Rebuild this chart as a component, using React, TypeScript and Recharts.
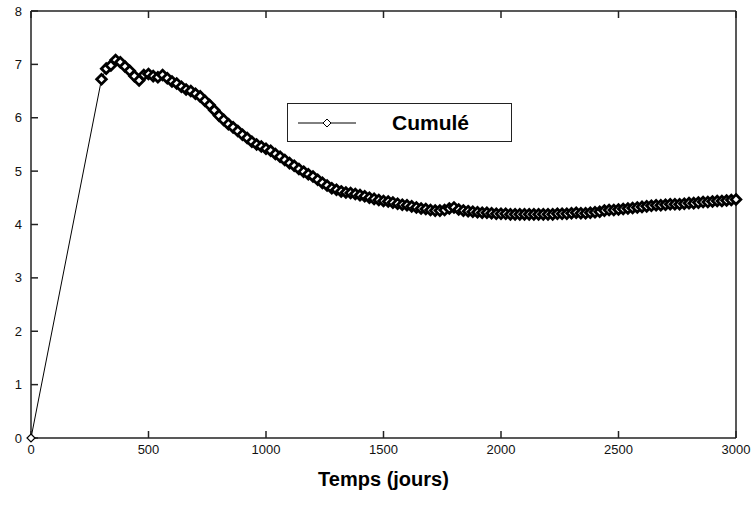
import React from "react";
import { Legend, Line, LineChart, XAxis, YAxis } from "recharts";

const days = [
  0, 300, 320, 340, 360, 380, 400, 420, 440, 460, 480, 500, 520, 540, 560, 580, 600, 620, 640, 660, 680, 700,
  720, 740, 760, 780, 800, 820, 840, 860, 880, 900, 920, 940, 960, 980, 1000, 1020, 1040, 1060, 1080, 1100,
  1120, 1140, 1160, 1180, 1200, 1220, 1240, 1260, 1280, 1300, 1320, 1340, 1360, 1380, 1400, 1420, 1440, 1460,
  1480, 1500, 1520, 1540, 1560, 1580, 1600, 1620, 1640, 1660, 1680, 1700, 1720, 1740, 1760, 1780, 1800, 1820,
  1840, 1860, 1880, 1900, 1920, 1940, 1960, 1980, 2000, 2020, 2040, 2060, 2080, 2100, 2120, 2140, 2160, 2180,
  2200, 2220, 2240, 2260, 2280, 2300, 2320, 2340, 2360, 2380, 2400, 2420, 2440, 2460, 2480, 2500, 2520, 2540,
  2560, 2580, 2600, 2620, 2640, 2660, 2680, 2700, 2720, 2740, 2760, 2780, 2800, 2820, 2840, 2860, 2880, 2900,
  2920, 2940, 2960, 2980, 3000,
];

const cumule = [
  0, 6.72, 6.92, 6.98, 7.08, 7.04, 6.96, 6.88, 6.78, 6.7, 6.8, 6.82, 6.78, 6.76, 6.8, 6.74, 6.68, 6.64, 6.58,
  6.53, 6.5, 6.45, 6.4, 6.32, 6.24, 6.14, 6.04, 5.96, 5.88, 5.82, 5.75, 5.68, 5.62, 5.55, 5.5, 5.46, 5.42, 5.38,
  5.32, 5.27, 5.21, 5.15, 5.1, 5.04, 4.99, 4.94, 4.9, 4.84, 4.78, 4.73, 4.68, 4.65, 4.62, 4.6, 4.59, 4.57, 4.55,
  4.53, 4.5, 4.48, 4.46, 4.44, 4.43, 4.41, 4.39, 4.37, 4.36, 4.34, 4.32, 4.3, 4.29, 4.27, 4.26, 4.26, 4.27, 4.3,
  4.32, 4.28, 4.26, 4.25, 4.24, 4.23, 4.22, 4.22, 4.21, 4.2, 4.2, 4.2, 4.19, 4.19, 4.19, 4.19, 4.19, 4.19, 4.19,
  4.19, 4.19, 4.19, 4.2, 4.2, 4.2, 4.21, 4.22, 4.21, 4.21, 4.22, 4.23, 4.24, 4.26, 4.27, 4.27, 4.28, 4.29, 4.3,
  4.31, 4.32, 4.33, 4.34, 4.35, 4.36, 4.36, 4.37, 4.38, 4.38, 4.38, 4.39, 4.4, 4.4, 4.41, 4.42, 4.42, 4.43, 4.44,
  4.44, 4.45, 4.46, 4.47,
];

const xTicks = [0, 500, 1000, 1500, 2000, 2500, 3000];
const yTicks = [0, 1, 2, 3, 4, 5, 6, 7, 8];

const data = days.map((d, i) => ({ jour: d, cumule: cumule[i] }));

const AXIS = "#222";
const tickStyle = { fill: "#111", fontSize: 13, fontFamily: "Arial, 'Liberation Sans', sans-serif" };

// open diamond marker, heavy stroke so the dense run reads as a dark band
const Diamond = (props: any) => {
  const { cx, cy, index } = props;
  if (cx == null || cy == null) return null;
  const first = index === 0;
  const r = first ? 4 : 4.8;
  return (
    <polygon
      key={`d-${index}`}
      points={`${cx},${cy - r} ${cx + r},${cy} ${cx},${cy + r} ${cx - r},${cy}`}
      fill="#fff"
      stroke="#000"
      strokeWidth={first ? 1.2 : 2.8}
    />
  );
};

const LegendBox = () => (
  <div
    style={{
      width: 225,
      height: 39,
      border: "1.5px solid #222",
      background: "#fff",
      display: "flex",
      alignItems: "center",
      boxSizing: "border-box",
    }}
  >
    <svg width={90} height={20} style={{ marginLeft: 10 }}>
      <line x1={0} y1={10} x2={58} y2={10} stroke="#000" strokeWidth={1} />
      <polygon points="29,6 33,10 29,14 25,10" fill="#fff" stroke="#000" strokeWidth={1} />
    </svg>
    <span style={{ fontFamily: "Arial, 'Liberation Sans', sans-serif", fontSize: 21, fontWeight: "bold", marginLeft: 4 }}>
      Cumulé
    </span>
  </div>
);

export default function App() {
  return (
    <div style={{ position: "absolute", left: 0, top: 0, background: "#fff" }}>
      <LineChart width={752} height={530} data={data} margin={{ top: 0, right: 0, bottom: 0, left: 0 }}>
        <XAxis
          dataKey="jour"
          type="number"
          domain={[0, 3000]}
          ticks={xTicks}
          height={53}
          stroke={AXIS}
          strokeWidth={1.5}
          tickSize={-7}
          tickMargin={14}
          tick={tickStyle}
          label={{
            value: "Temps (jours)",
            position: "insideBottom",
            offset: 5,
            style: { fill: "#000", fontSize: 20, fontWeight: "bold", fontFamily: "Arial, 'Liberation Sans', sans-serif" },
          }}
        />
        <XAxis
          xAxisId="top"
          orientation="top"
          dataKey="jour"
          type="number"
          domain={[0, 3000]}
          ticks={xTicks}
          height={11}
          stroke={AXIS}
          strokeWidth={1.5}
          tickSize={-7}
          tickFormatter={() => ""}
        />
        <YAxis
          type="number"
          domain={[0, 8]}
          ticks={yTicks}
          width={31}
          stroke={AXIS}
          strokeWidth={1.5}
          tickSize={-7}
          tickMargin={16}
          tick={tickStyle}
        />
        <YAxis
          yAxisId="right"
          orientation="right"
          type="number"
          domain={[0, 8]}
          ticks={yTicks}
          width={16}
          stroke={AXIS}
          strokeWidth={1.5}
          tickSize={-7}
          tickFormatter={() => ""}
        />
        <Legend
          content={() => <LegendBox />}
          wrapperStyle={{ position: "absolute", left: 287, top: 103, width: "auto" }}
        />
        <Line
          dataKey="cumule"
          name="Cumulé"
          stroke="#000"
          strokeWidth={1}
          dot={<Diamond />}
          activeDot={false}
          isAnimationActive={false}
        />
      </LineChart>
    </div>
  );
}
